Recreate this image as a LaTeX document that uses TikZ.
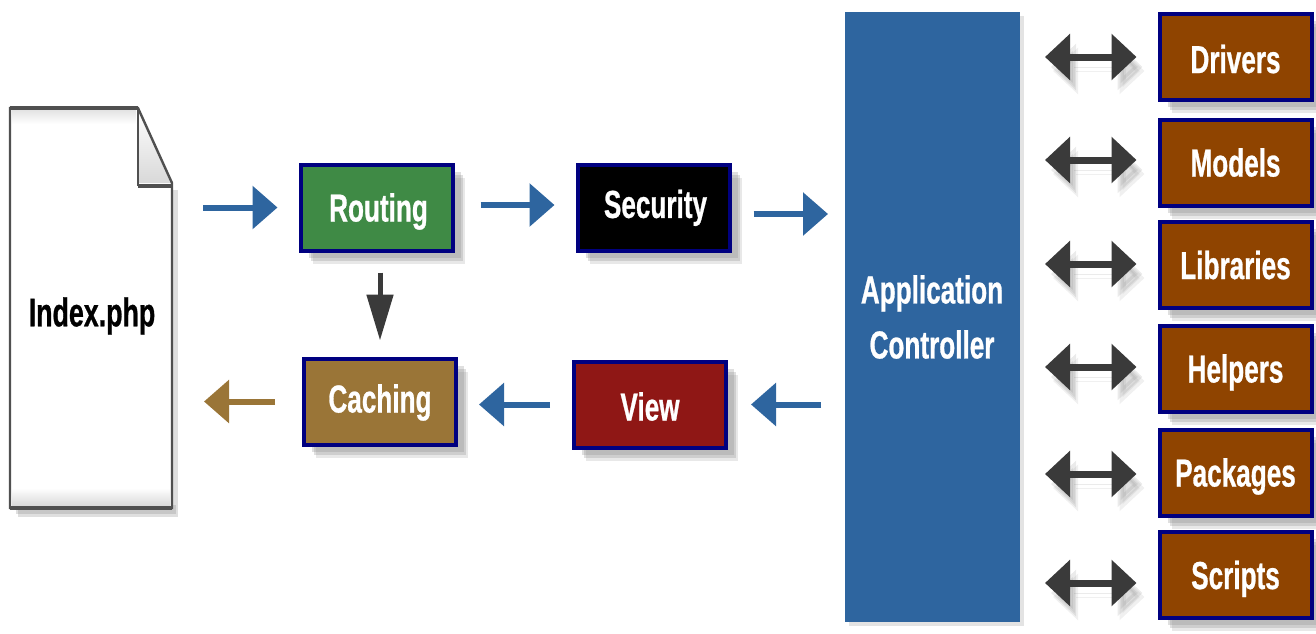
\documentclass[tikz,border=0pt]{standalone}
\usepackage{fontspec}
\usepackage{xcolor}
\usetikzlibrary{arrows.meta,shadows}
\newfontfamily\labelfont[FakeStretch=0.67,FakeBold=0.7]{Liberation Sans}
\definecolor{navyedge}{HTML}{000080}
\definecolor{ctrlblue}{HTML}{2E659F}
\definecolor{routegreen}{HTML}{3F8A45}
\definecolor{cachetan}{HTML}{9A7537}
\definecolor{viewred}{HTML}{8F1715}
\definecolor{libbrown}{HTML}{8F4400}
\definecolor{darkarrow}{HTML}{3A3A3A}
\definecolor{pageedge}{HTML}{505050}
\tikzset{
    softshadow/.style={
        drop shadow={shadow xshift=6pt, shadow yshift=-6.5pt, fill=gray, opacity=0.18},
        drop shadow={shadow xshift=5pt, shadow yshift=-5pt, fill=gray, opacity=0.25},
        drop shadow={shadow xshift=4pt, shadow yshift=-3.5pt, fill=gray, opacity=0.25}
    },
    flowbox/.style={
        draw=navyedge, line width=2pt, minimum width=76pt, minimum height=43pt,
        text=white, font=\labelfont\bfseries\fontsize{19.5}{23}\selectfont,
        text height=14pt, text depth=0pt, softshadow
    },
    blockarrow/.style={
        -{Triangle[length=12.5pt,width=21pt]}, line width=3pt, draw=#1
    },
    twoway/.style={
        {Triangle[length=12.5pt,width=22.5pt]}-{Triangle[length=12.5pt,width=22.5pt]},
        line width=3.5pt, draw=darkarrow, shorten <=12.5pt, shorten >=10.5pt,
        preaction={draw=gray, opacity=0.12, transform canvas={shift={(4pt,-7pt)}}},
        preaction={draw=gray, opacity=0.16, transform canvas={shift={(3pt,-5pt)}}}
    }
}

\begin{document}
\begin{tikzpicture}[x=0.5pt,y=-0.5pt]
    \useasboundingbox (0,0) rectangle (1316,633);

    % Index page with folded corner
    \fill[gray, opacity=0.25] (18,190) rectangle (178,517);
    \fill[gray, opacity=0.25] (16,505) rectangle (176,514);
    \fill[white] (10,108) -- (138,108) -- (172,183) -- (172,508) -- (10,508) -- cycle;
    \shade[top color=white, bottom color=gray!30] (12,488) rectangle (170,506);
    \shade[top color=gray!22, bottom color=white] (12,110) rectangle (136,124);
    \shade[top color=white, bottom color=gray!30] (138,108) -- (172,183) -- (138,183) -- cycle;
    \draw[pageedge, line width=1.2pt, line join=miter] (138,108) -- (172,183) -- (172,508) -- (10,508) -- (10,108) -- cycle;
    \draw[pageedge, line width=2pt] (10,108) -- (138,108);
    \draw[pageedge, line width=2pt] (10,508) -- (172,508);
    \draw[pageedge, line width=1.2pt] (138,108) -- (138,186);
    \draw[pageedge, line width=2.2pt] (138,186) -- (172,186);
    \node[minimum width=80pt, minimum height=200pt, inner sep=0pt, outer sep=0pt,
        font=\labelfont\bfseries\fontsize{20}{24}\selectfont, text height=14.3pt, text depth=0pt] (index) at (92,312) {Index.php};

    % Middle boxes
    \node[flowbox, fill=routegreen] (routing) at (376.5,207.5) {\hspace{2pt}Routing};
    \node[flowbox, fill=black] (security) at (653.5,207.5) {\hspace{2pt}\raisebox{1.8pt}{Security}};
    \node[flowbox, fill=cachetan] (caching) at (380,401.5) {\raisebox{1.5pt}{Caching}};
    \node[flowbox, fill=viewred] (view) at (650,404.5) {\raisebox{-1pt}{View}\hspace{3pt}};

    % Controller
    \node[fill=ctrlblue, minimum width=87.5pt, minimum height=305pt, inner sep=0pt, outer sep=0pt,
        drop shadow={shadow xshift=2pt, shadow yshift=-2pt, fill=gray, opacity=0.22}] (controller) at (932.5,317) {};
    \node[text=white, align=center, inner sep=0pt, font=\labelfont\bfseries\fontsize{19.5}{27.5}\selectfont] (controllertext) at (932,317) {Application\\Controller};

    % Flow arrows
    \draw[blockarrow=ctrlblue, shorten <=15.5pt, shorten >=10.5pt] (index.east |- routing.west) -- (routing.west);
    \draw[blockarrow=ctrlblue, shorten <=13pt, shorten >=10.5pt] ([yshift=1.25pt]routing.east) -- ([yshift=1.25pt]security.west);
    \draw[blockarrow=ctrlblue, shorten <=11pt, shorten >=8.5pt] ([yshift=-3.25pt]security.east) -- ([yshift=-3.25pt]security.east -| controller.west);
    \draw[blockarrow=ctrlblue, shorten <=12pt, shorten >=11.5pt] (view.east -| controller.west) -- (view.east);
    \draw[blockarrow=ctrlblue, shorten <=11pt, shorten >=10.5pt] (view.west) -- (view.west -| caching.east);
    \draw[blockarrow=cachetan, shorten <=13.5pt, shorten >=16pt] (caching.west) -- (caching.west -| index.east);
    \draw[-{Triangle[length=23pt,width=13pt]}, line width=2.5pt, draw=darkarrow, shorten <=10pt, shorten >=8pt]
        (routing.south -| caching.north) -- (caching.north);

    % Right column
    \foreach \name/\lbl/\ypos/\offs/\lift in {drivers/Drivers/57/0/-1, models/Models/162.5/-1.25/0, libraries/Libraries/265/-0.5/0,
        helpers/Helpers/368.5/-0.75/0, packages/Packages/472.5/0.75/0, scripts/Scripts/575/4/0}
    {
        \node[flowbox, fill=libbrown] (\name) at (1235.5,\ypos) {\raisebox{\lift pt}{\lbl}};
        \draw[twoway] ([yshift=-\offs pt]\name.west -| controller.east) -- ([yshift=-\offs pt]\name.west);
    }
\end{tikzpicture}
\end{document}
